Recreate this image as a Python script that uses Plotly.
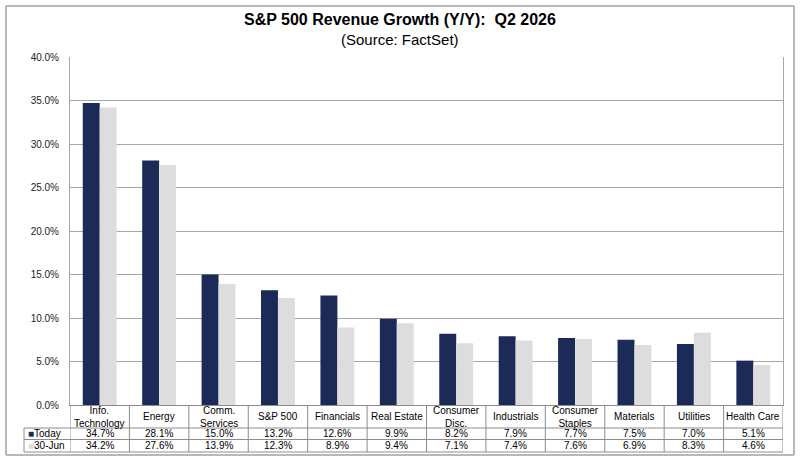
"""
    Recreates the FactSet "S&P 500 Revenue Growth (Y/Y): Q2 2026" clustered bar chart
    with its data table underneath the category axis.
"""
##########==========##########==========##########==========##########==========
## INITIALIZE

import plotly.graph_objects as go

## chart data
categories = ['Info.<br>Technology', 'Energy', 'Comm.<br>Services', 'S&P 500', 'Financials',
              'Real Estate', 'Consumer<br>Disc.', 'Industrials', 'Consumer<br>Staples',
              'Materials', 'Utilities', 'Health Care']
today = [34.7, 28.1, 15.0, 13.2, 12.6, 9.9, 8.2, 7.9, 7.7, 7.5, 7.0, 5.1]
jun30 = [34.2, 27.6, 13.9, 12.3, 8.9, 9.4, 7.1, 7.4, 7.6, 6.9, 8.3, 4.6]
series_names = ['Today', '30-Jun']
y_ticks = [0, 5, 10, 15, 20, 25, 30, 35, 40]
y_tick_labels = ['0.0%', '5.0%', '10.0%', '15.0%', '20.0%', '25.0%', '30.0%', '35.0%', '40.0%']
title_text = 'S&P 500 Revenue Growth (Y/Y):  Q2 2026'
subtitle_text = '(Source: FactSet)'

## define parameters
params = dict()
params['width'], params['height'] = 800, 461
params['margin'] = dict(l = 70, r = 17, t = 57, b = 56)
params['font'] = 'Arial, "Liberation Sans", sans-serif'
params['navy'] = '#1B2A56'
params['grey'] = '#DDDDDD'
params['grid'] = '#A6A6A6'
params['table_line'] = '#8C8C8C'
params['border'] = '#A0A0A0'


##########==========##########==========##########==========##########==========
## COMPONENT FUNCTIONS

def px(x):
    """pixel x -> paper x"""
    m = params['margin']
    return (x - m['l']) / (params['width'] - m['l'] - m['r'])


def py(y):
    """pixel y -> paper y"""
    m = params['margin']
    return (params['height'] - m['b'] - y) / (params['height'] - m['t'] - m['b'])


def paper_line(fig, x0, y0, x1, y1, color, width = 1):
    """line in pixel coordinates, mapped to paper"""
    fig.add_shape(type = 'line', xref = 'paper', yref = 'paper',
                  x0 = px(x0), x1 = px(x1), y0 = py(y0), y1 = py(y1),
                  line = dict(color = color, width = width))


def create_figure():
    fig = go.Figure()
    fig.update_layout(
        width = params['width'], height = params['height'],
        margin = params['margin'],
        paper_bgcolor = 'white', plot_bgcolor = 'white',
        font = dict(family = params['font'], color = '#000000', size = 10),
        showlegend = False,
        barmode = 'group', bargap = 0.43, bargroupgap = 0,
        xaxis = dict(
            type = 'category', showticklabels = False, ticks = '',
            showgrid = False, showline = True, linecolor = params['table_line'], linewidth = 1,
            mirror = False, range = [-0.5, len(categories) - 0.5], fixedrange = True,
        ),
        yaxis = dict(
            range = [0, 40], tickmode = 'array', tickvals = y_ticks, ticktext = y_tick_labels,
            showgrid = True, gridcolor = params['grid'], gridwidth = 1,
            showline = True, linecolor = params['grid'], linewidth = 1, mirror = True,
            ticks = '', ticklabelstandoff = 8, zeroline = False,
            tickfont = dict(size = 10, color = '#222222'), fixedrange = True,
        ),
    )
    ## title + subtitle as two annotations centred on the page
    fig.add_annotation(x = px(400), xref = 'paper', y = py(19.5), yref = 'paper',
                       text = '<b>' + title_text + '</b>', showarrow = False,
                       font = dict(size = 16, color = '#000000'),
                       xanchor = 'center', yanchor = 'middle')
    fig.add_annotation(x = px(400), xref = 'paper', y = py(39), yref = 'paper',
                       text = subtitle_text, showarrow = False,
                       font = dict(size = 15, color = '#000000'),
                       xanchor = 'center', yanchor = 'middle')
    return fig


def build_traces():
    traces = []
    for name, vals, color in zip(series_names, [today, jun30], [params['navy'], params['grey']]):
        traces.append(go.Bar(
            x = categories, y = vals, name = name,
            marker = dict(color = color, line = dict(width = 0)),
            hovertemplate = '%{x}: %{y:.1f}%<extra>' + name + '</extra>',
        ))
    return traces


def build_table(fig):
    """Draws the data table below the plot: grid lines plus cell text."""
    n = len(categories)
    line = dict(color = params['table_line'], width = 1)
    y_head, y_row1, y_row2, y_bot = 405, 428, 439.5, 452
    x_left, x_right = 24, 783

    ## vertical lines between categories
    for i in range(n + 1):
        fig.add_shape(type = 'line', xref = 'x', yref = 'paper',
                      x0 = i - 0.5, x1 = i - 0.5, y0 = py(y_head), y1 = py(y_bot), line = line)
    ## legend column left edge
    paper_line(fig, x_left, y_row1, x_left, y_bot, params['table_line'])
    ## horizontal lines
    for yy in [y_row1, y_row2, y_bot]:
        paper_line(fig, x_left, yy, x_right, yy, params['table_line'])

    ## category names
    for cat in categories:
        fig.add_annotation(x = cat, xref = 'x', y = py((y_head + y_row1) / 2), yref = 'paper',
                           text = cat, showarrow = False, font = dict(size = 10),
                           xanchor = 'center', yanchor = 'middle')
    ## values
    for vals, yy in [(today, (y_row1 + y_row2) / 2), (jun30, (y_row2 + y_bot) / 2)]:
        for cat, v in zip(categories, vals):
            fig.add_annotation(x = cat, xref = 'x', y = py(yy), yref = 'paper',
                               text = '%.1f%%' % v, showarrow = False, font = dict(size = 10),
                               xanchor = 'center', yanchor = 'middle')
    ## legend keys
    for name, color, yy in [(series_names[0], params['navy'], (y_row1 + y_row2) / 2),
                            (series_names[1], params['grey'], (y_row2 + y_bot) / 2)]:
        fig.add_annotation(x = px(x_left + 2), xref = 'paper', y = py(yy), yref = 'paper',
                           text = '<span style="color:%s">■</span>%s' % (color, name),
                           showarrow = False, font = dict(size = 10),
                           xanchor = 'left', yanchor = 'middle')

    ## outer chart border
    for x0, y0, x1, y1 in [(6, 6, 794, 6), (6, 455, 794, 455), (6, 6, 6, 455), (794, 6, 794, 455)]:
        paper_line(fig, x0, y0, x1, y1, params['border'], 1.5)
    return fig


##########==========##########==========##########==========##########==========
## TOP-LEVEL

def draw_chart():
    fig = create_figure()
    fig.add_traces(build_traces())
    fig = build_table(fig)
    ## drop the browser's default 8px body margin so the figure sits at the page origin
    fig.write_html('out.html', config = dict(displayModeBar = False),
                   post_script = "document.body.style.margin = '0';")
    return fig


if __name__ == '__main__':
    draw_chart()
